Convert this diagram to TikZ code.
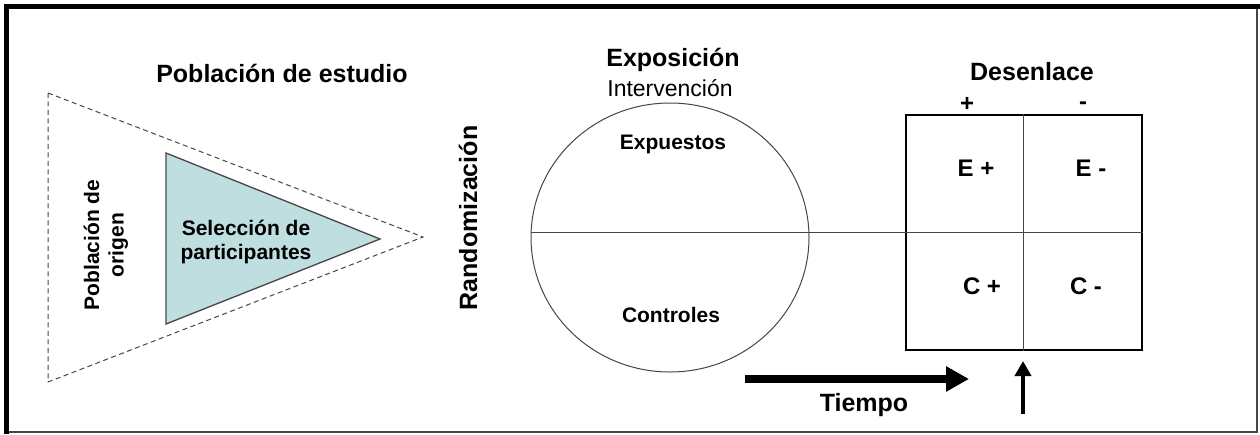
\documentclass[tikz,border=0pt]{standalone}
\usepackage{fontspec}
\setmainfont{Liberation Sans}
\usetikzlibrary{shapes.geometric,arrows.meta}
\definecolor{tealfill}{RGB}{190,222,224}
\definecolor{lineg}{RGB}{70,70,70}
\begin{document}
\begin{tikzpicture}[x=1pt,y=-1pt,
  big/.style={font=\fontsize{25}{28}\selectfont\bfseries, inner sep=0pt, align=center},
  mid/.style={font=\fontsize{21}{24.5}\selectfont\bfseries, inner sep=0pt, align=center},
  reg/.style={font=\fontsize{23}{26}\selectfont, inner sep=0pt, align=center},
  cell/.style={font=\fontsize{24}{27}\selectfont\bfseries, inner sep=0pt},
  thin/.style={draw=lineg, line width=1pt},
]
\useasboundingbox (0,0) rectangle (1260,434);
\fill[white] (0,0) rectangle (1260,434);
% frame
\draw[line width=1.2pt, lineg] (6,6) rectangle (1257,432);
\fill[black] (4,4) rectangle (1260,9);
\fill[black] (4,4) rectangle (9,434);

% left: study population
\node[big] (pop) at (282,73) {Población de estudio};
\coordinate (o1) at (48,93);
\coordinate (o2) at (423,237);
\coordinate (o3) at (48,382);
\draw[lineg, line width=1pt, dash pattern=on 5pt off 3.5pt] (o1) -- (o2) -- (o3) -- cycle;
\coordinate (s1) at (166,153);
\coordinate (s2) at (380,239);
\coordinate (s3) at (166,324);
\draw[fill=tealfill, draw=lineg, line width=1.3pt] (s1) -- (s2) -- (s3) -- cycle;
\node[mid, rotate=90] (orig) at (106,245) {Población de\\origen};
\node[mid] (sel) at (246,242) {Selección de\\participantes};

% randomization
\node[big, rotate=90] (rand) at (468,218) {Randomización};

% exposure circle
\node[big] (expo) at (673,60) {Exposición};
\node[reg] (interv) at (670,88) {Intervención};
\node[draw=lineg, line width=1pt, ellipse, minimum width=278pt, minimum height=269pt, inner sep=0pt] (circ) at (670,237.5) {};
\node[mid] (exp) at (673,144) {Expuestos};
\node[mid] (ctrl) at (671,315) {Controles};

% outcome box
\node[big] (des) at (1032,72) {Desenlace};
\node[cell] (plus) at (967,104) {+};
\node[cell] (minus) at (1083,106) {-};
\node[draw=black, line width=1.3pt, minimum width=236pt, minimum height=235pt, inner sep=0pt] (box) at (1024,232.5) {};
\draw[thin] (box.north -| 1023,0) -- (box.south -| 1023,0);
\draw[thin] (box.east) -- (box.west) -- (circ.west |- box.west);
\node[cell] (ep) at (976,168) {E +};
\node[cell] (em) at (1091,168) {E -};
\node[cell] (cp) at (982,286) {C +};
\node[cell] (cm) at (1086,286) {C -};

% time arrows
\coordinate (t0) at (745,379);
\coordinate (t1) at (969,379);
\draw[line width=8pt, -{Triangle[length=23pt,width=24pt]}] (t0) -- (t1);
\node[big] (tiempo) at (864,405) {Tiempo};
\coordinate (u0) at (1023,414);
\coordinate (u1) at (1023,361);
\draw[line width=4pt, -{Triangle[length=15pt,width=16pt]}] (u0) -- (u1);
\end{tikzpicture}
\end{document}
